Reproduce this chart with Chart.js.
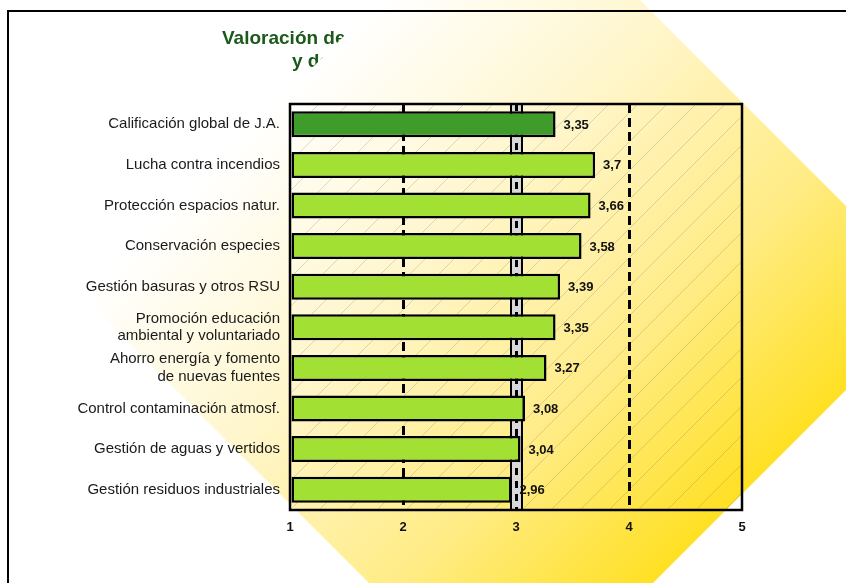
<!DOCTYPE html>
<html>
<head>
<meta charset="utf-8">
<script src="https://cdn.jsdelivr.net/npm/chart.js@4.4.1/dist/chart.umd.min.js"></script>
<style>
  html, body { margin: 0; padding: 0; background: #fff; }
  #wrap { width: 846px; height: 583px; position: relative; }
</style>
</head>
<body>
<div id="wrap"><canvas id="chart" width="846" height="583"></canvas></div>
<script>
// categories (top to bottom) and their scores
const categories = [
    'Calificación global de J.A.',
    'Lucha contra incendios',
    'Protección espacios natur.',
    'Conservación especies',
    'Gestión basuras y otros RSU',
    ['Promoción educación', 'ambiental y voluntariado'],
    ['Ahorro energía y fomento', 'de nuevas fuentes'],
    'Control contaminación atmosf.',
    'Gestión de aguas y vertidos',
    'Gestión residuos industriales'
];
const scores = [3.35, 3.7, 3.66, 3.58, 3.39, 3.35, 3.27, 3.08, 3.04, 2.96];
const xTicks = [1, 2, 3, 4, 5];
const refValue = 3;
const titleLines = ['Valoración de', 'y de'];

const FONT = 'Arial, "Liberation Sans", sans-serif';

function fmt(v) {
    return String(v).replace('.', ',');
}

// white page, title, yellow diamond and hatched plot area
const backdrop = {
    id: 'backdrop',
    beforeDraw(chart) {
        const c = chart.ctx;
        const a = chart.chartArea;
        c.save();
        c.fillStyle = '#fff';
        c.fillRect(0, 0, chart.width, chart.height);

        c.fillStyle = '#1b5a1b';
        c.font = 'bold 19px ' + FONT;
        c.textBaseline = 'alphabetic';
        c.fillText(titleLines[0], 222, 44);
        c.fillText(titleLines[1], 292, 67);

        const g = c.createLinearGradient(190, 190, 618, 618);
        g.addColorStop(0, '#ffffff');
        g.addColorStop(0.35, '#fff6cc');
        g.addColorStop(0.7, '#ffec86');
        g.addColorStop(1, '#ffe024');
        c.fillStyle = g;
        c.beginPath();
        c.moveTo(510, -130);
        c.lineTo(938, 298);
        c.lineTo(511, 725);
        c.lineTo(83, 297);
        c.closePath();
        c.fill();

        c.beginPath();
        c.rect(a.left, a.top, a.width, a.height);
        c.clip();
        c.strokeStyle = 'rgba(120,105,70,0.3)';
        c.lineWidth = 0.8;
        c.beginPath();
        for (let x = a.left - a.height; x < a.right; x += 29) {
            c.moveTo(x, a.bottom);
            c.lineTo(x + a.height, a.top);
        }
        c.stroke();
        c.restore();
    },
    beforeDatasetsDraw(chart) {
        // grey reference strip at the mid value
        const c = chart.ctx;
        const a = chart.chartArea;
        const x = chart.scales.x.getPixelForValue(refValue);
        c.save();
        c.fillStyle = '#d8d8d8';
        c.fillRect(x - 5, a.top, 11, a.height);
        c.strokeStyle = '#000';
        c.lineWidth = 2;
        c.beginPath();
        c.moveTo(x - 5, a.top); c.lineTo(x - 5, a.bottom);
        c.moveTo(x + 6, a.top); c.lineTo(x + 6, a.bottom);
        c.stroke();
        c.lineWidth = 3;
        c.setLineDash([7, 6]);
        c.beginPath();
        c.moveTo(x + 0.5, a.top); c.lineTo(x + 0.5, a.bottom);
        c.stroke();
        c.restore();
    },
    afterDatasetsDraw(chart) {
        const c = chart.ctx;
        const a = chart.chartArea;
        c.save();
        c.strokeStyle = '#000';
        c.lineWidth = 2.5;
        c.strokeRect(a.left, a.top, a.width, a.height);

        c.fillStyle = '#111';
        c.font = 'bold 13px ' + FONT;
        c.textBaseline = 'middle';
        chart.getDatasetMeta(0).data.forEach((bar, i) => {
            c.fillText(fmt(scores[i]), bar.x + 8, bar.y + 1);
        });

        // outer frame
        c.lineWidth = 2;
        c.beginPath();
        c.moveTo(8, 583); c.lineTo(8, 11); c.lineTo(846, 11);
        c.stroke();
        c.restore();
    }
};

new Chart(document.getElementById('chart').getContext('2d'), {
    type: 'bar',
    data: {
        labels: categories,
        datasets: [{
            data: scores,
            base: 1,
            backgroundColor: ctx => ctx.dataIndex === 0 ? '#3f9b2a' : '#a3e034',
            borderColor: '#000',
            borderWidth: 2.5,
            borderSkipped: false,
            barPercentage: 0.64,
            categoryPercentage: 1
        }]
    },
    options: {
        indexAxis: 'y',
        responsive: false,
        animation: false,
        devicePixelRatio: 1,
        layout: { padding: { left: 0, top: 104, right: 104, bottom: 0 } },
        plugins: {
            legend: { display: false },
            tooltip: { enabled: false },
            title: { display: false }
        },
        scales: {
            x: {
                type: 'linear',
                min: xTicks[0],
                max: xTicks[xTicks.length - 1],
                afterBuildTicks: s => { s.ticks = xTicks.map(v => ({ value: v })); },
                afterFit: s => { s.height = 73; },
                border: { display: false, dash: [9, 5] },
                grid: {
                    drawTicks: false,
                    lineWidth: 3,
                    color: ctx => (ctx.tick && (ctx.tick.value === 2 || ctx.tick.value === 4)) ? '#000' : 'rgba(0,0,0,0)'
                },
                ticks: {
                    padding: 10,
                    color: '#111',
                    font: { family: FONT, size: 13, weight: 'bold' }
                }
            },
            y: {
                afterFit: s => { s.width = 290; },
                border: { display: false },
                grid: { display: false, drawTicks: false },
                ticks: {
                    padding: 10,
                    color: '#1a1a1a',
                    font: { family: FONT, size: 15, lineHeight: 1.15 },
                    autoSkip: false
                }
            }
        }
    },
    plugins: [backdrop]
});
</script>
</body>
</html>
